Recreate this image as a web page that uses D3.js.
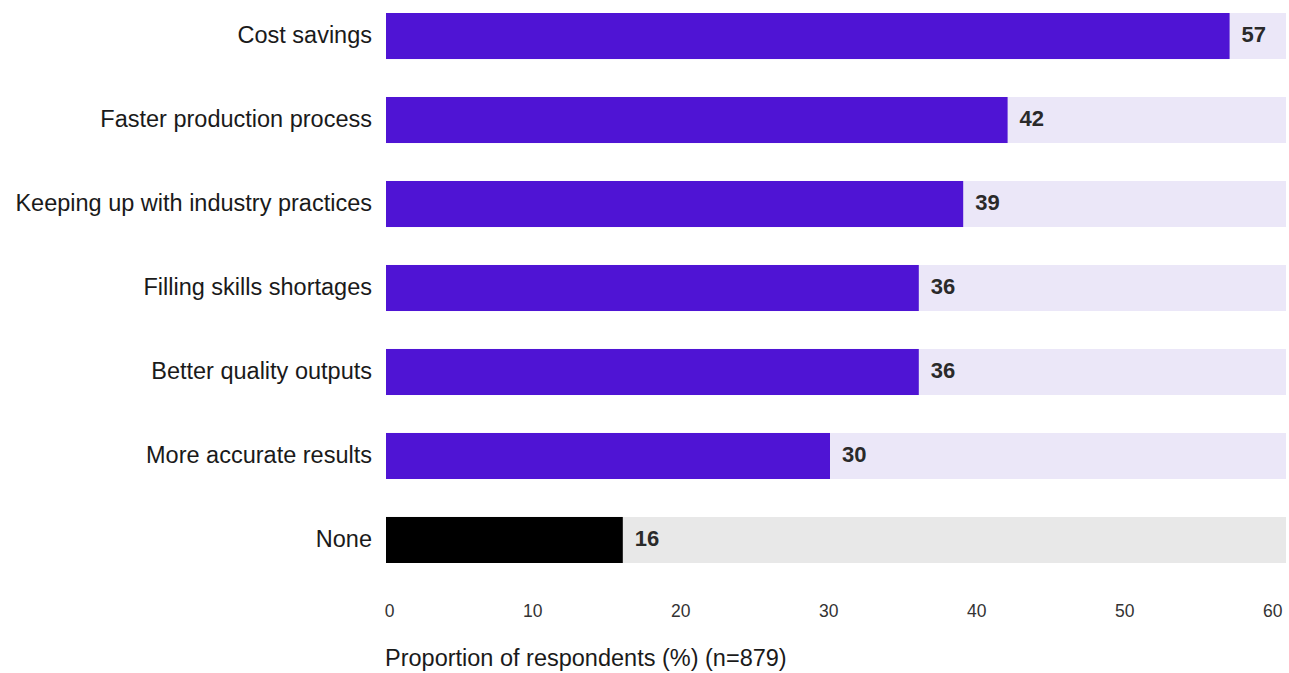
<!DOCTYPE html>
<html>
<head>
<meta charset="utf-8">
<script src="https://cdn.jsdelivr.net/npm/d3@7"></script>
<style>
  html, body { margin: 0; padding: 0; background: #ffffff; }
  svg { display: block; }
</style>
</head>
<body>
<svg id="chart" width="1289" height="673"></svg>
<script>
// Reasons for adopting the technology, share of respondents (%)
const categories = [
  "Cost savings",
  "Faster production process",
  "Keeping up with industry practices",
  "Filling skills shortages",
  "Better quality outputs",
  "More accurate results",
  "None"
];
const values = [57, 42, 39, 36, 36, 30, 16];
const tickValues = [0, 10, 20, 30, 40, 50, 60];
const axisTitle = "Proportion of respondents (%) (n=879)";

const width = 1289, height = 673;
const plotLeft = 386, plotRight = 1286;
const fontFamily = "'Liberation Sans', Arial, sans-serif";

const svg = d3.select("#chart");

const x = d3.scaleLinear().domain([0, 60]).range([plotLeft, 1274]);
const y = d3.scaleBand()
  .domain(categories)
  .range([13, 563])
  .paddingInner(0.452)
  .paddingOuter(0);

const isNone = d => d === "None";
const data = categories.map((c, i) => ({ category: c, value: values[i] }));

// background tracks spanning the full plot width
svg.append("g").selectAll("rect")
  .data(data)
  .join("rect")
  .attr("x", plotLeft)
  .attr("y", d => y(d.category))
  .attr("width", plotRight - plotLeft)
  .attr("height", y.bandwidth())
  .attr("fill", d => isNone(d.category) ? "#e8e8e8" : "#ebe7f8");

// value bars
svg.append("g").selectAll("rect")
  .data(data)
  .join("rect")
  .attr("x", x(0))
  .attr("y", d => y(d.category))
  .attr("width", d => x(d.value) - x(0))
  .attr("height", y.bandwidth())
  .attr("fill", d => isNone(d.category) ? "#000000" : "#4f14d4");

// value labels
svg.append("g").selectAll("text")
  .data(data)
  .join("text")
  .attr("x", d => x(d.value) + 12)
  .attr("y", d => y(d.category) + y.bandwidth() / 2)
  .attr("dy", "0.28em")
  .attr("font-family", fontFamily)
  .attr("font-size", 22)
  .attr("font-weight", "bold")
  .attr("fill", "#2a2a2a")
  .text(d => d3.format("d")(d.value));

// category labels
svg.append("g").selectAll("text")
  .data(data)
  .join("text")
  .attr("x", 372)
  .attr("y", d => y(d.category) + y.bandwidth() / 2)
  .attr("dy", "0.28em")
  .attr("text-anchor", "end")
  .attr("font-family", fontFamily)
  .attr("font-size", 23.5)
  .attr("fill", "#1a1a1a")
  .text(d => d.category);

// x axis (labels only)
const xAxis = d3.axisBottom(x)
  .tickValues(tickValues)
  .tickSize(0)
  .tickPadding(0)
  .tickFormat(d3.format("d"));

const axisG = svg.append("g")
  .attr("transform", "translate(0, 605)")
  .call(xAxis);
axisG.select(".domain").remove();
axisG.selectAll("text")
  .attr("text-anchor", "end")
  .attr("dx", 8)
  .attr("font-family", fontFamily)
  .attr("font-size", 17.5)
  .attr("fill", "#333333");

// axis title
svg.append("text")
  .attr("x", 385)
  .attr("y", 666)
  .attr("font-family", fontFamily)
  .attr("font-size", 23.5)
  .attr("fill", "#1a1a1a")
  .text(axisTitle);
</script>
</body>
</html>
